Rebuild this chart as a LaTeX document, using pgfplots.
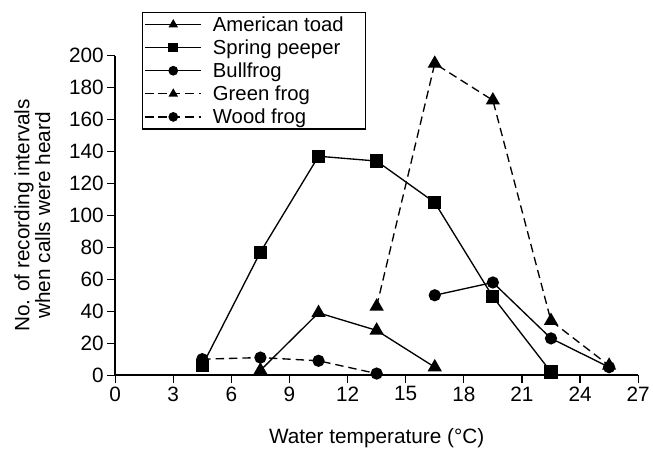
\documentclass[border=0pt]{standalone}
\usepackage{fontspec}
\setmainfont{Liberation Sans}
\usepackage{pgfplots}
\pgfplotsset{compat=1.18}
\begin{document}
\begin{tikzpicture}
\begin{axis}[
    scale only axis,
    width=527bp,
    height=322bp,
    xmin=0, xmax=27,
    ymin=0, ymax=200,
    xtick={0,3,...,27},
    ytick={0,20,...,200},
    axis lines*=left,
    axis line style={line width=1.5pt},
    tick style={line width=1.2pt, black},
    tick align=outside,
    major tick length=8bp,
    clip=false,
    /pgf/number format/assume math mode=true,
    tick label style={font=\fontsize{21}{23}\selectfont},
    xlabel={Water temperature (°C)},
    ylabel={No. of recording intervals\\when calls were heard},
    label style={font=\fontsize{21}{21}\selectfont, align=center},
    xlabel style={yshift=-21pt},
    ylabel style={yshift=12pt},
    every axis plot/.append style={black, line width=1.35pt},
    legend style={at={(0.0512,1.1366)}, anchor=north west, draw=black, line width=1.2pt,
        font=\fontsize{20.5}{22}\selectfont, row sep=3pt, inner sep=2pt},
    legend cell align=left,
    /tikz/every odd column/.append style={column sep=9bp},
    legend image code/.code={
        \draw[mark repeat=2,mark phase=2,#1, mark size=4.2pt]
        plot coordinates {(0cm,0cm) (1cm,0cm) (2cm,0cm)};},
    ]
\addplot[solid, mark=triangle*, mark size=7pt, mark options={solid}] coordinates {
(7.5,3) (10.5,39) (13.5,28) (16.5,5)};
\addplot[solid, mark=square*, mark size=6pt, mark options={solid}] coordinates {
(4.5,6) (7.5,77) (10.5,137) (13.5,134) (16.5,108) (19.5,49) (22.5,2)};
\addplot[solid, mark=*, mark size=5.5pt, mark options={solid}] coordinates {
(16.5,50) (19.5,58) (22.5,23) (25.5,5)};
\addplot[dash pattern=on 8.5pt off 5pt, mark=triangle*, mark size=7pt, mark options={solid}] coordinates {
(13.5,43) (16.5,195) (19.5,172) (22.5,34) (25.5,6)};
\addplot[dash pattern=on 8.5pt off 5pt, mark=*, mark size=5.5pt, mark options={solid}] coordinates {
(4.5,10) (7.5,11) (10.5,9) (13.5,1)};
\legend{\makebox[150bp][l]{American toad}, Spring peeper, Bullfrog, Green frog, Wood frog}
% page frame matching the reference margins
\path (rel axis cs:-0.2201,-0.2267) rectangle (rel axis cs:1.01898,1.1739);
\end{axis}
\end{tikzpicture}
\end{document}
